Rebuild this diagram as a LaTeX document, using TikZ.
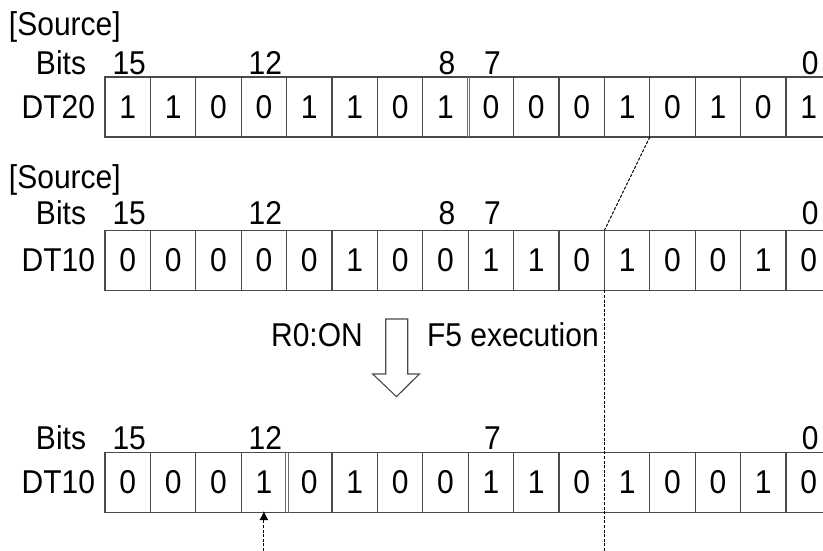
\documentclass[tikz,border=0pt]{standalone}
\usepackage{fontspec}
\setmainfont{Liberation Sans}
\usetikzlibrary{arrows.meta}
\definecolor{linec}{HTML}{4A4A4A}
\newcommand\sy[1]{\scalebox{1}[1.1]{#1}}
\begin{document}
\begin{tikzpicture}[x=1pt,y=-1pt,
  txt/.style={inner sep=0pt, outer sep=0pt, font=\fontsize{30}{32}\selectfont},
  cell/.style={txt, draw=linec, line width=1.1pt, minimum width=45.4pt, minimum height=60pt},
  dsh/.style={draw=black, line width=1pt, dash pattern=on 3pt off 1.6pt},
  sep/.style={draw=linec!80, line width=0.8pt}]
\useasboundingbox (0,0) rectangle (823,551);
\clip (0,0) rectangle (823,551);

% ---- Row 1 : DT20 source
\node[txt, anchor=west] (src1) at (9,27) {\sy{[Source]}};
\node[txt, anchor=east] (bits1) at (86,63) {\sy{Bits}};
\node[txt, anchor=east] (dt20) at (95,107) {\sy{DT20}};
\foreach \v [count=\i from 0] in {1,1,0,0,1,1,0,1,0,0,0,1,0,1,0,1} {
  \pgfmathtruncatemacro\b{15-\i}
  \node[cell] (a\b) at (127.7+\i*45.4,107) {\sy{\v}};
}
\foreach \b in {15,12,8,7,0} { \path (a\b.center) ++(1.5,-44) node[txt] (ta\b) {\sy{\b}}; }
\fill[white] ([xshift=-0.9pt,yshift=-0.6pt]a8.north east) rectangle ([xshift=0.9pt,yshift=0.6pt]a8.south east);
\draw[sep] ([xshift=-1.3pt]a8.north east) -- ([xshift=-1.3pt]a8.south east);
\draw[sep] ([xshift=1.3pt]a8.north east) -- ([xshift=1.3pt]a8.south east);

% ---- Row 2 : DT10 source
\node[txt, anchor=west] (src2) at (9,180) {\sy{[Source]}};
\node[txt, anchor=east] (bits2) at (86,213) {\sy{Bits}};
\node[txt, anchor=east] (dt10a) at (95,260) {\sy{DT10}};
\foreach \v [count=\i from 0] in {0,0,0,0,0,1,0,0,1,1,0,1,0,0,1,0} {
  \pgfmathtruncatemacro\b{15-\i}
  \node[cell] (b\b) at (127.7+\i*45.4,260.3) {\sy{\v}};
}
\foreach \b in {15,12,8,7,0} { \path (b\b.center) ++(1.5,-47) node[txt] (tb\b) {\sy{\b}}; }

% ---- Row 3 : DT10 result
\node[txt, anchor=east] (bits3) at (86,438) {\sy{Bits}};
\node[txt, anchor=east] (dt10b) at (95,482) {\sy{DT10}};
\foreach \v [count=\i from 0] in {0,0,0,1,0,1,0,0,1,1,0,1,0,0,1,0} {
  \pgfmathtruncatemacro\b{15-\i}
  \node[cell] (c\b) at (127.7+\i*45.4,482.5) {\sy{\v}};
}
\foreach \b in {15,12,7,0} { \path (c\b.center) ++(1.5,-44.5) node[txt] (tc\b) {\sy{\b}}; }
\fill[white] ([xshift=-0.9pt,yshift=-0.6pt]c12.north east) rectangle ([xshift=0.9pt,yshift=0.6pt]c12.south east);
\draw[sep] ([xshift=-1.3pt]c12.north east) -- ([xshift=-1.3pt]c12.south east);
\draw[sep] ([xshift=1.3pt]c12.north east) -- ([xshift=1.3pt]c12.south east);

% ---- block arrow and its labels
\draw[draw=linec, line width=1.1pt, fill=white]
  (385.7,319) -- (407.7,319) -- (407.7,374) -- (419.3,374) -- (396.5,396.7)
  -- (372.7,374) -- (385.7,374) -- cycle;
\node[txt] (r0on) at (317,335) {\sy{R0:ON}};
\node[txt, anchor=west] (f5) at (427,335) {\sy{F5 execution}};

% ---- dashed connectors
\coordinate (vbot) at (b4.south west |- 0,551);
\coordinate (abot) at (c12.south |- 0,551);
\draw[dsh] (a4.south east) -- (b4.north west);
\draw[white, line width=1.6pt, shorten <=0.7pt, shorten >=0.7pt] (c4.north west) -- (c4.south west);
\draw[dsh] (b4.south west) -- (vbot);
\draw[dsh, -{Latex[length=9pt,width=9pt]}, shorten >=-1.5pt] (abot) -- (c12.south);
\end{tikzpicture}
\end{document}
